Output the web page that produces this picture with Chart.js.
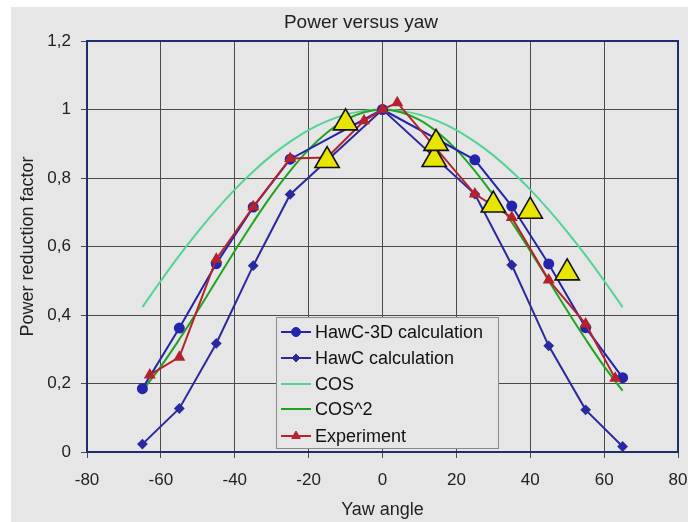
<!DOCTYPE html>
<html>
<head>
<meta charset="utf-8">
<script src="https://cdn.jsdelivr.net/npm/chart.js@4.4.1/dist/chart.umd.min.js"></script>
<style>
  html, body { margin: 0; padding: 0; background: #fff; }
  #wrap { width: 688px; height: 522px; }
</style>
</head>
<body>
<div id="wrap"><canvas id="yawChart" width="688" height="522"></canvas></div>
<script>
// values
const hawc3dAngles = [-65, -55, -45, -35, -25, 0, 25, 35, 45, 55, 65];
const hawc3dValues = [0.185, 0.362, 0.55, 0.715, 0.855, 1.0, 0.853, 0.718, 0.549, 0.363, 0.217];

const hawcAngles = [-65, -55, -45, -35, -25, 0, 25, 35, 45, 55, 65];
const hawcValues = [0.023, 0.127, 0.317, 0.544, 0.752, 1.0, 0.753, 0.546, 0.31, 0.123, 0.016];

const cosAngles = [-65, -60, -55, -50, -45, -40, -35, -30, -25, -20, -15, -10, -5, 0, 5, 10, 15, 20, 25, 30, 35, 40, 45, 50, 55, 60, 65];
const cosValues = [0.423, 0.5, 0.574, 0.643, 0.707, 0.766, 0.819, 0.866, 0.906, 0.94, 0.966, 0.985, 0.996, 1.0,
  0.996, 0.985, 0.966, 0.94, 0.906, 0.866, 0.819, 0.766, 0.707, 0.643, 0.574, 0.5, 0.423];
const cos2Values = [0.179, 0.25, 0.329, 0.413, 0.5, 0.587, 0.671, 0.75, 0.821, 0.883, 0.933, 0.97, 0.992, 1.0,
  0.992, 0.97, 0.933, 0.883, 0.821, 0.75, 0.671, 0.587, 0.5, 0.413, 0.329, 0.25, 0.179];

const expAngles = [-63, -55, -45, -35, -25, -15, -5, 0, 4, 25, 35, 45, 55, 63];
const expValues = [0.225, 0.277, 0.563, 0.716, 0.857, 0.86, 0.967, 1.0, 1.02, 0.753, 0.685, 0.502, 0.374, 0.215];

const extraAngles = [-15, -10, 14, 14.5, 30, 40, 50];
const extraValues = [0.851, 0.961, 0.854, 0.901, 0.721, 0.703, 0.523];

const xTicks = [-80, -60, -40, -20, 0, 20, 40, 60, 80];

const pairs = (xs, ys) => xs.map((x, i) => ({ x: x, y: ys[i] }));

const FONT = "'Liberation Sans', Arial, sans-serif";
const BG = '#e6e6e6';

const bgPlugin = {
  id: 'bg',
  beforeDraw(chart) {
    const ctx = chart.ctx;
    ctx.save();
    ctx.fillStyle = '#fff';
    ctx.fillRect(0, 0, chart.width, chart.height);
    ctx.fillStyle = BG;
    ctx.fillRect(11, 7, chart.width - 11, chart.height - 7);
    ctx.restore();
  },
  afterDraw(chart) {
    const ctx = chart.ctx;
    const a = chart.chartArea;
    ctx.save();
    // plot frame
    ctx.strokeStyle = '#1b2f6e';
    ctx.lineWidth = 2;
    ctx.strokeRect(a.left, a.top, a.right - a.left, a.bottom - a.top);

    // title
    ctx.fillStyle = '#222';
    ctx.font = '19px ' + FONT;
    ctx.textAlign = 'center';
    ctx.textBaseline = 'middle';
    ctx.fillText('Power versus yaw', 361, 23);

    // legend box inside the plot
    const bx = 276, by = 317, bw = 222, bh = 131;
    ctx.fillStyle = BG;
    ctx.fillRect(bx, by, bw, bh);
    ctx.strokeStyle = '#8a8a8a';
    ctx.lineWidth = 1;
    ctx.strokeRect(bx + 0.5, by + 0.5, bw, bh);

    const rows = [332, 358, 384, 409, 436];
    const legendOrder = [1, 2, 3, 4, 5];
    legendOrder.forEach((di, i) => {
      const ds = chart.data.datasets[di];
      const y = rows[i];
      ctx.strokeStyle = ds.borderColor;
      ctx.lineWidth = ds.borderWidth;
      ctx.beginPath();
      ctx.moveTo(281, y);
      ctx.lineTo(311, y);
      ctx.stroke();
      if (ds.pointRadius > 0) {
        ctx.fillStyle = ds.pointBackgroundColor;
        ctx.strokeStyle = ds.pointBorderColor;
        ctx.lineWidth = 1;
        Chart.helpers.drawPoint(ctx, {
          pointStyle: ds.pointStyle,
          radius: ds.pointRadius,
          rotation: 0,
          borderWidth: 1
        }, 296, y);
      }
      ctx.fillStyle = '#111';
      ctx.font = '18px ' + FONT;
      ctx.textAlign = 'left';
      ctx.textBaseline = 'middle';
      ctx.fillText(ds.label, 315, y + 1);
    });
    ctx.restore();
  }
};

new Chart(document.getElementById('yawChart'), {
  type: 'line',
  data: {
    datasets: [
      {
        label: 'Measured',
        data: pairs(extraAngles, extraValues),
        showLine: false,
        pointStyle: 'triangle',
        pointRadius: 14,
        pointBackgroundColor: '#e8e600',
        pointBorderColor: '#111',
        pointBorderWidth: 1.6,
        borderColor: '#111',
        order: -1
      },
      {
        label: 'HawC-3D calculation',
        data: pairs(hawc3dAngles, hawc3dValues),
        borderColor: '#2424ac',
        borderWidth: 2,
        pointStyle: 'circle',
        pointRadius: 4.5,
        pointBackgroundColor: '#2424ac',
        pointBorderColor: '#2424ac',
        order: 1
      },
      {
        label: 'HawC calculation',
        data: pairs(hawcAngles, hawcValues),
        borderColor: '#2a2a9e',
        borderWidth: 2,
        pointStyle: 'rectRot',
        pointRadius: 4,
        pointBackgroundColor: '#2a2a9e',
        pointBorderColor: '#2a2a9e',
        order: 2
      },
      {
        label: 'COS',
        data: pairs(cosAngles, cosValues),
        borderColor: '#52d494',
        borderWidth: 2,
        pointRadius: 0,
        tension: 0.4,
        order: 4
      },
      {
        label: 'COS^2',
        data: pairs(cosAngles, cos2Values),
        borderColor: '#1ea51e',
        borderWidth: 2,
        pointRadius: 0,
        tension: 0.4,
        order: 3
      },
      {
        label: 'Experiment',
        data: pairs(expAngles, expValues),
        borderColor: '#b4232d',
        borderWidth: 2,
        pointStyle: 'triangle',
        pointRadius: 5,
        pointBackgroundColor: '#b4232d',
        pointBorderColor: '#b4232d',
        order: 0
      }
    ]
  },
  options: {
    responsive: false,
    animation: false,
    layout: { autoPadding: false, padding: { top: 41, right: 10, left: 0, bottom: 0 } },
    plugins: {
      legend: { display: false },
      title: { display: false },
      tooltip: { enabled: false }
    },
    scales: {
      x: {
        type: 'linear',
        min: -80,
        max: 80,
        afterFit: (s) => { s.height = 70; s.paddingLeft = 0; s.paddingRight = 0; },
        afterBuildTicks: (s) => { s.ticks = xTicks.map((v) => ({ value: v })); },
        border: { display: false },
        grid: { color: '#4a4a4a', lineWidth: 1, tickLength: 6 },
        ticks: { color: '#222', font: { family: FONT, size: 17 }, padding: 12, maxRotation: 0 },
        title: { display: true, text: 'Yaw angle', color: '#222', font: { family: FONT, size: 18 }, padding: { top: 0, bottom: 1 } }
      },
      y: {
        min: 0,
        max: 1.2,
        afterFit: (s) => { s.width = 87; s.paddingTop = 0; s.paddingBottom = 0; },
        border: { display: false },
        grid: { color: '#4a4a4a', lineWidth: 1, tickLength: 6 },
        ticks: {
          stepSize: 0.2,
          color: '#222',
          font: { family: FONT, size: 17 },
          padding: 10,
          callback: (v) => String(Math.round(v * 10) / 10).replace('.', ',')
        },
        title: { display: true, text: 'Power reduction factor', color: '#222', font: { family: FONT, size: 18 }, padding: { top: 17, bottom: 0 } }
      }
    }
  },
  plugins: [bgPlugin]
});
</script>
</body>
</html>
